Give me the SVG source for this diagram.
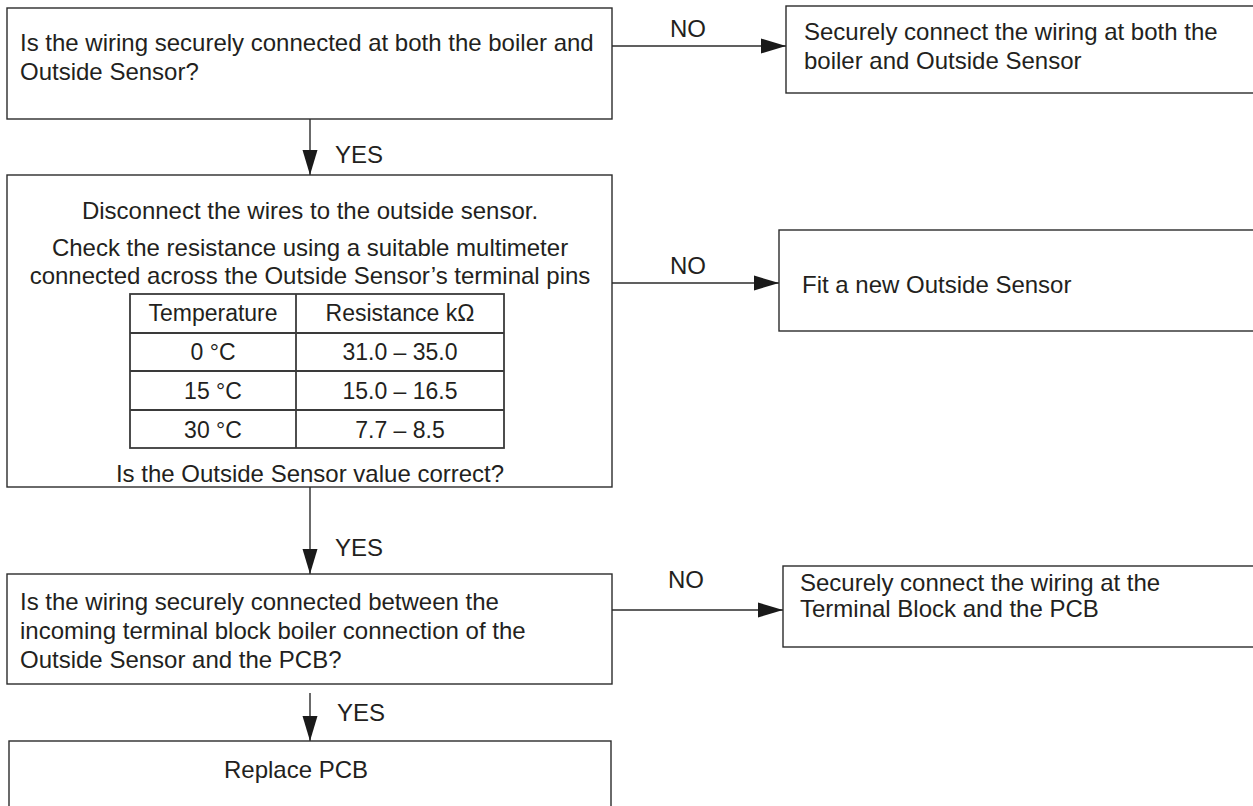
<svg xmlns="http://www.w3.org/2000/svg" width="1253" height="806" viewBox="0 0 1253 806">
<defs>
<style>
.box{fill:#fff;stroke:#2b2b2b;stroke-width:1.4}
.tbl{fill:none;stroke:#3a3a3a;stroke-width:1.8}
.t{font-family:"Liberation Sans",Arial,sans-serif;font-size:24px;fill:#231f20}
.tt{font-family:"Liberation Sans",Arial,sans-serif;font-size:23px;fill:#231f20;text-anchor:middle}
.c{text-anchor:middle}
.ln{stroke:#2b2b2b;stroke-width:1.4;fill:none}
</style>
<marker id="ah" markerUnits="userSpaceOnUse" markerWidth="26" markerHeight="16" refX="25" refY="8" orient="auto">
<path d="M0,0.5 L25,8 L0,15.5 z" fill="#1a1a1a"/>
</marker>
</defs>
<rect width="1253" height="806" fill="#fff"/>

<g id="connectors">
<line class="ln" x1="612" y1="46" x2="786" y2="46" marker-end="url(#ah)"/>
<line class="ln" x1="310" y1="119" x2="310" y2="175" marker-end="url(#ah)"/>
<line class="ln" x1="612" y1="283" x2="779" y2="283" marker-end="url(#ah)"/>
<line class="ln" x1="310" y1="487" x2="310" y2="574" marker-end="url(#ah)"/>
<line class="ln" x1="612" y1="610" x2="783" y2="610" marker-end="url(#ah)"/>
<line class="ln" x1="310" y1="693" x2="310" y2="741" marker-end="url(#ah)"/>
<text class="t c" x="688" y="37">NO</text>
<text class="t" x="335" y="163">YES</text>
<text class="t c" x="688" y="274">NO</text>
<text class="t" x="335" y="556">YES</text>
<text class="t c" x="686" y="588">NO</text>
<text class="t" x="337" y="721">YES</text>
</g>

<g id="q1">
<rect class="box" x="7" y="8" width="605" height="111"/>
<text class="t" x="20" y="51">Is the wiring securely connected at both the boiler and</text>
<text class="t" x="20" y="80">Outside Sensor?</text>
</g>

<g id="a1">
<rect class="box" x="786" y="6" width="480" height="87"/>
<text class="t" x="804" y="40">Securely connect the wiring at both the</text>
<text class="t" x="804" y="69">boiler and Outside Sensor</text>
</g>

<g id="q2">
<rect class="box" x="7" y="175" width="605" height="312"/>
<text class="t c" x="310" y="219">Disconnect the wires to the outside sensor.</text>
<text class="t c" x="310" y="256">Check the resistance using a suitable multimeter</text>
<text class="t c" x="310" y="284">connected across the Outside Sensor’s terminal pins</text>
<g id="table">
<rect class="tbl" x="130" y="294" width="374" height="154"/>
<line class="tbl" x1="296" y1="294" x2="296" y2="448"/>
<line class="tbl" x1="130" y1="333" x2="504" y2="333"/>
<line class="tbl" x1="130" y1="371" x2="504" y2="371"/>
<line class="tbl" x1="130" y1="410" x2="504" y2="410"/>
<text class="tt" x="213" y="321">Temperature</text>
<text class="tt" x="400" y="321">Resistance kΩ</text>
<text class="tt" x="213" y="360">0 °C</text>
<text class="tt" x="400" y="360">31.0 – 35.0</text>
<text class="tt" x="213" y="399">15 °C</text>
<text class="tt" x="400" y="399">15.0 – 16.5</text>
<text class="tt" x="213" y="438">30 °C</text>
<text class="tt" x="400" y="438">7.7 – 8.5</text>
</g>
<text class="t c" x="310" y="482">Is the Outside Sensor value correct?</text>
</g>

<g id="a2">
<rect class="box" x="779" y="230" width="480" height="101"/>
<text class="t" x="802" y="293">Fit a new Outside Sensor</text>
</g>

<g id="q3">
<rect class="box" x="7" y="574" width="605" height="110"/>
<text class="t" x="20" y="610">Is the wiring securely connected between the</text>
<text class="t" x="20" y="639">incoming terminal block boiler connection of the</text>
<text class="t" x="20" y="668">Outside Sensor and the PCB?</text>
</g>

<g id="a3">
<rect class="box" x="783" y="566" width="480" height="81"/>
<text class="t" x="800" y="591">Securely connect the wiring at the</text>
<text class="t" x="800" y="617">Terminal Block and the PCB</text>
</g>

<g id="end">
<rect class="box" x="9" y="741" width="602" height="80"/>
<text class="t c" x="296" y="778">Replace PCB</text>
</g>
</svg>
